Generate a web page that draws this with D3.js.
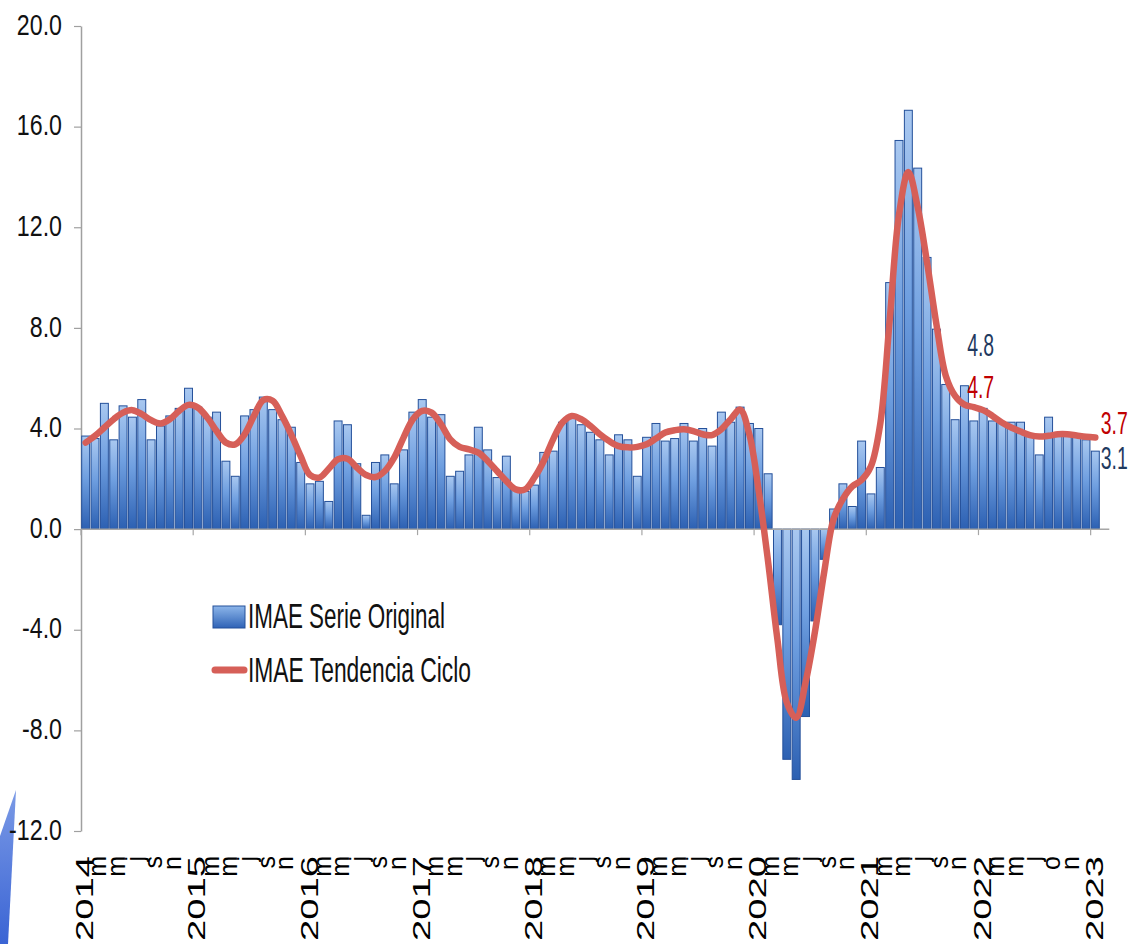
<!DOCTYPE html>
<html>
<head>
<meta charset="utf-8">
<script src="https://cdn.jsdelivr.net/npm/d3@7"></script>
<style>
  body { margin: 0; background: #fff; }
  svg { display: block; }
</style>
</head>
<body>
<svg id="chart" width="1135" height="944"></svg>
<script>
// IMAE, variación interanual (%), enero 2014 - enero 2023
const tickLabels = [
  "2014", "", "m", "", "m", "", "j", "", "s", "", "n", "",
  "2015", "", "m", "", "m", "", "j", "", "s", "", "n", "",
  "2016", "", "m", "", "m", "", "j", "", "s", "", "n", "",
  "2017", "", "m", "", "m", "", "j", "", "s", "", "n", "",
  "2018", "", "m", "", "m", "", "j", "", "s", "", "n", "",
  "2019", "", "m", "", "m", "", "j", "", "s", "", "n", "",
  "2020", "", "m", "", "m", "", "j", "", "s", "", "n", "",
  "2021", "", "m", "", "m", "", "j", "", "s", "", "n", "",
  "2022", "", "m", "", "m", "", "j", "", "o", "", "n", "",
  "2023"
];

const serieOriginal = [
  3.7, 3.6, 5.0, 3.55, 4.9, 4.45, 5.15, 3.55, 4.1, 4.5, 4.8, 5.6,
  4.85, 4.45, 4.65, 2.7, 2.1, 4.5, 4.75, 5.25, 4.75, 4.35, 4.05, 2.65,
  1.8, 1.9, 1.1, 4.3, 4.15, 2.6, 0.55, 2.65, 2.95, 1.8, 3.15, 4.65,
  5.15, 4.45, 4.55, 2.1, 2.3, 2.95, 4.05, 3.15, 2.05, 2.9, 1.65, 1.5,
  1.75, 3.05, 3.1, 4.25, 4.45, 4.15, 3.85, 3.55, 2.95, 3.75, 3.55, 2.1,
  3.65, 4.2, 3.5, 3.6, 4.2, 3.5, 4.0, 3.3, 4.65, 4.25, 4.85, 4.2,
  4.0, 2.2, -3.8, -9.15, -9.95, -7.45, -3.65, -1.2, 0.8, 1.8, 0.9, 3.5,
  1.4, 2.45, 9.8, 15.45, 16.65, 14.35, 10.8, 7.95, 5.75, 4.35, 5.7, 4.3,
  4.8, 4.3, 4.2, 4.25, 4.25, 3.8, 2.95, 4.45, 3.7, 3.7, 3.7, 3.55,
  3.1
];

const tendenciaCiclo = [
  3.44, 3.71, 4.04, 4.37, 4.63, 4.73, 4.57, 4.33, 4.2, 4.37, 4.7, 4.94,
  4.83, 4.44, 3.9, 3.44, 3.37, 3.77, 4.5, 5.13, 5.1, 4.5, 3.75, 2.9,
  2.15, 2.05, 2.4, 2.78, 2.8, 2.45, 2.15, 2.07, 2.31, 2.84, 3.64, 4.37,
  4.7, 4.63, 4.17, 3.57, 3.27, 3.17, 3.04, 2.71, 2.31, 1.91, 1.58, 1.58,
  2.05, 2.71, 3.57, 4.24, 4.5, 4.37, 4.1, 3.77, 3.5, 3.3, 3.25, 3.27,
  3.37, 3.6, 3.84, 3.93, 3.97, 3.9, 3.77, 3.74, 3.97, 4.37, 4.75, 3.75,
  1.5, -1.3, -4.4, -6.9, -7.5, -6.1, -4.1, -1.7, 0.4, 1.2, 1.7, 1.95,
  2.5, 4.2, 8.3, 12.5, 14.2, 12.8, 10.6, 8.15, 6.1, 5.3, 4.95, 4.85,
  4.73, 4.5, 4.24, 4.04, 3.88, 3.74, 3.68, 3.71, 3.77, 3.77, 3.72, 3.67,
  3.64
];

const yTicks = [-12, -8, -4, 0, 4, 8, 12, 16, 20];

const seriesNames = ["IMAE Serie Original", "IMAE Tendencia Ciclo"];

// etiquetas de datos: mes (índice) y valor mostrado
const labelsOriginal = [{ i: 96, value: 4.8 }, { i: 108, value: 3.1 }];
const labelsTendencia = [{ i: 96, value: 4.7 }, { i: 108, value: 3.7 }];

const barColor = "#24509a";
const lineColor = "#d65f58";
const sans = "'Liberation Sans', Arial, sans-serif";

const svg = d3.select("#chart");

const x = d3.scaleBand()
    .domain(d3.range(serieOriginal.length))
    .range([81, 1100])
    .paddingInner(0.15)
    .paddingOuter(0.075);

const y = d3.scaleLinear()
    .domain([-12, 20])
    .range([831, 26]);

// texto condensado (la fuente estrecha no está instalada)
function condense(sel, factor) {
  sel.each(function () {
    const w = this.getComputedTextLength();
    d3.select(this)
      .attr("textLength", w * factor)
      .attr("lengthAdjust", "spacingAndGlyphs");
  });
}

const defs = svg.append("defs");
const grad = defs.append("linearGradient")
    .attr("id", "barGrad")
    .attr("x1", 0).attr("y1", 0).attr("x2", 0).attr("y2", 1);
grad.append("stop").attr("offset", "0%").attr("stop-color", "#a9c8f0");
grad.append("stop").attr("offset", "45%").attr("stop-color", "#6f9fe0");
grad.append("stop").attr("offset", "100%").attr("stop-color", "#2c60b2");

const legGrad = defs.append("linearGradient")
    .attr("id", "legGrad")
    .attr("x1", 0).attr("y1", 0).attr("x2", 0).attr("y2", 1);
legGrad.append("stop").attr("offset", "0%").attr("stop-color", "#8db6ea");
legGrad.append("stop").attr("offset", "100%").attr("stop-color", "#2f63b6");

const decoGrad = defs.append("linearGradient")
    .attr("id", "decoGrad")
    .attr("x1", 0).attr("y1", 0).attr("x2", 0).attr("y2", 1);
decoGrad.append("stop").attr("offset", "0%").attr("stop-color", "#7b9ae6");
decoGrad.append("stop").attr("offset", "100%").attr("stop-color", "#3a64d4");

// decoración de la diapositiva (esquina inferior izquierda)
svg.append("polygon")
    .attr("points", "0,836 16,790 8,944 0,944")
    .attr("fill", "url(#decoGrad)");

// eje Y
const yAxis = svg.append("g")
    .attr("transform", "translate(81,0)")
    .call(d3.axisLeft(y)
        .tickValues(yTicks)
        .tickFormat(d => d.toFixed(1))
        .tickSize(7)
        .tickSizeOuter(0)
        .tickPadding(12));
yAxis.select(".domain").attr("stroke", "#a0a0a0").attr("stroke-width", 1.5);
yAxis.selectAll(".tick line").attr("stroke", "#a0a0a0").attr("stroke-width", 1.2);
yAxis.selectAll(".tick text")
    .attr("font-family", sans)
    .attr("font-size", 29)
    .attr("fill", "#111")
    .attr("dy", "0.28em")
    .call(condense, 0.8);

// barras
svg.append("g")
    .selectAll("rect")
    .data(serieOriginal)
    .join("rect")
    .attr("x", (d, i) => x(i))
    .attr("y", d => Math.min(y(d), y(0)))
    .attr("width", x.bandwidth())
    .attr("height", d => Math.abs(y(d) - y(0)))
    .attr("fill", "url(#barGrad)")
    .attr("stroke", barColor)
    .attr("stroke-width", 1);

// eje de categorías en cero
const gap = (x.step() - x.bandwidth()) / 2;
svg.append("line")
    .attr("x1", 81).attr("x2", x(serieOriginal.length - 1) + x.bandwidth() + 10)
    .attr("y1", y(0)).attr("y2", y(0))
    .attr("stroke", "#a6a6a6").attr("stroke-width", 1.5);
svg.append("g")
    .selectAll("line")
    .data(tickLabels.map((t, i) => ({ t, i })).filter(d => d.t.length === 4))
    .join("line")
    .attr("x1", d => x(d.i) - gap).attr("x2", d => x(d.i) - gap)
    .attr("y1", y(0)).attr("y2", y(0) + 6)
    .attr("stroke", "#a6a6a6").attr("stroke-width", 1.2);

// línea tendencia ciclo
svg.append("path")
    .datum(tendenciaCiclo)
    .attr("fill", "none")
    .attr("stroke", lineColor)
    .attr("stroke-width", 6.5)
    .attr("stroke-linecap", "round")
    .attr("stroke-linejoin", "round")
    .attr("d", d3.line()
        .x((d, i) => x(i) + x.bandwidth() / 2)
        .y(d => y(d))
        .curve(d3.curveCatmullRom.alpha(0.5)));

// etiquetas del eje X (rotadas)
const labelTop = y(-12) + 25;
svg.append("g")
    .selectAll("text")
    .data(tickLabels.map((t, i) => ({ t, i })).filter(d => d.t !== ""))
    .join("text")
    .attr("transform", d => `translate(${x(d.i) + x.bandwidth() / 2},${labelTop}) rotate(-90)`)
    .attr("text-anchor", "end")
    .attr("y", d => d.t.length === 4 ? 7.5 : 2)
    .attr("font-family", sans)
    .attr("font-size", d => d.t.length === 4 ? 24 : 25)
    .attr("textLength", d => d.t.length === 4 ? 85 : null)
    .attr("lengthAdjust", "spacingAndGlyphs")
    .attr("fill", "#000")
    .text(d => d.t);

// leyenda
const legend = svg.append("g");
legend.append("rect")
    .attr("x", 213).attr("y", 606).attr("width", 32).attr("height", 22)
    .attr("fill", "url(#legGrad)").attr("stroke", barColor).attr("stroke-width", 1);
legend.append("line")
    .attr("x1", 215).attr("x2", 244).attr("y1", 670).attr("y2", 670)
    .attr("stroke", lineColor).attr("stroke-width", 7).attr("stroke-linecap", "round");
legend.selectAll("text")
    .data(seriesNames)
    .join("text")
    .attr("x", 248)
    .attr("y", (d, i) => i === 0 ? 628 : 682)
    .attr("font-family", sans)
    .attr("font-size", 35)
    .attr("textLength", (d, i) => i === 0 ? 197 : 223)
    .attr("lengthAdjust", "spacingAndGlyphs")
    .attr("fill", "#111")
    .text(d => d);

// etiquetas de datos (fuente pequeña escalada: estrecha y alta)
const fmt = d3.format(".1f");
const labelText = (sel, color, pos) => sel
    .attr("transform", d => `translate(${pos(d)[0]},${pos(d)[1]}) scale(0.81,1.33)`)
    .attr("font-family", sans)
    .attr("font-size", 24)
    .attr("fill", color)
    .text(d => fmt(d.value));

svg.append("g")
    .selectAll("text")
    .data(labelsOriginal)
    .join("text")
    .call(labelText, "#1f3a5f", d => d.i === 108
        ? [x(d.i) + x.bandwidth() + 1.5, y(d.value) + 18]
        : [x(d.i) - 12, y(d.value) - 52]);

svg.append("g")
    .selectAll("text")
    .data(labelsTendencia)
    .join("text")
    .call(labelText, "#c00000", d => d.i === 108
        ? [x(d.i) + x.bandwidth() + 1.5, y(d.value) - 2]
        : [x(d.i) - 12, y(d.value) - 13]);
</script>
</body>
</html>
